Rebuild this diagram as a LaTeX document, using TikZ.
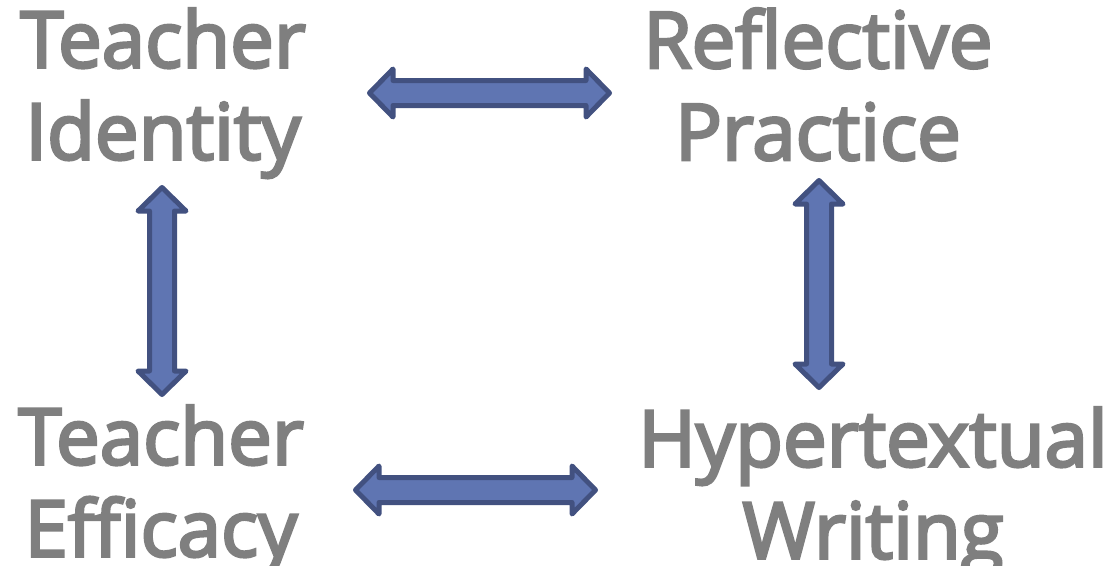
\documentclass[tikz,border=0pt]{standalone}
\usepackage{fontspec}
\newfontface\conceptfont{Open Sans}[FakeBold=3.5]
\usetikzlibrary{calc}
\definecolor{labelgray}{RGB}{127,127,127}
\definecolor{arrowfill}{RGB}{95,117,178}
\definecolor{arrowline}{RGB}{66,81,128}

% sizes of the block arrows (centre line of the border)
\def\headlen{23.5pt}
\def\headw{24pt}
\def\shaftw{12.5pt}

% horizontal two-way block arrow between two named coordinates
\newcommand\hboth[2]{%
  \draw[blockarrow] let \p1=(#1), \p2=(#2) in
    (\p1) -- (\x1+\headlen,\y1+\headw) -- (\x1+\headlen,\y1+\shaftw)
    -- (\x2-\headlen,\y2+\shaftw) -- (\x2-\headlen,\y2+\headw) -- (\p2)
    -- (\x2-\headlen,\y2-\headw) -- (\x2-\headlen,\y2-\shaftw)
    -- (\x1+\headlen,\y1-\shaftw) -- (\x1+\headlen,\y1-\headw) -- cycle;}
% vertical one, first coordinate on top
\newcommand\vboth[2]{%
  \draw[blockarrow] let \p1=(#1), \p2=(#2) in
    (\p1) -- (\x1+\headw,\y1-\headlen) -- (\x1+\shaftw,\y1-\headlen)
    -- (\x2+\shaftw,\y2+\headlen) -- (\x2+\headw,\y2+\headlen) -- (\p2)
    -- (\x2-\headw,\y2+\headlen) -- (\x2-\shaftw,\y2+\headlen)
    -- (\x1-\shaftw,\y1-\headlen) -- (\x1-\headw,\y1-\headlen) -- cycle;}

\tikzset{
  concept/.style={text=labelgray,font=\conceptfont\fontsize{78}{92}\selectfont,
    align=center,inner sep=0pt,anchor=north},
  blockarrow/.style={fill=arrowfill,draw=arrowline,line width=5pt,
    line join=round}
}

\begin{document}
\begin{tikzpicture}[x=1pt,y=-1pt]
  \useasboundingbox[fill=white] (0,0) rectangle (1107,565);

  % the four ideas
  \node[concept] (identity) at (163,8) {Teacher\\Identity};
  \node[concept] (reflect) at (818,8) {Reflective\\Practice};
  \node[concept] (efficacy) at (161,405) {Teacher\\Efficacy};
  \node[concept] (hyper) at (873,407) {Hypertextual\\Writing};

  % ends of the arrows
  \coordinate (top-l) at (369.5,93);
  \coordinate (top-r) at (609.5,93);
  \coordinate (bot-l) at (355.5,490);
  \coordinate (bot-r) at (595.5,490);
  \coordinate (left-t) at (162,187.5);
  \coordinate (left-b) at (162,394.5);
  \coordinate (right-t) at (819,180.5);
  \coordinate (right-b) at (819,387.5);

  \hboth{top-l}{top-r}
  \hboth{bot-l}{bot-r}
  \vboth{left-t}{left-b}
  \vboth{right-t}{right-b}
\end{tikzpicture}
\end{document}
